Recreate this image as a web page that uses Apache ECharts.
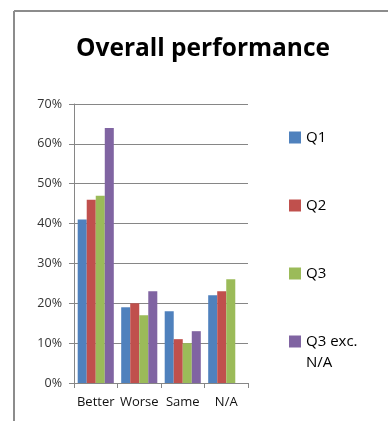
<!DOCTYPE html>
<html>
<head>
<meta charset="utf-8">
<script src="https://cdn.jsdelivr.net/npm/echarts@6/dist/echarts.min.js"></script>
<style>
  html, body { margin: 0; padding: 0; background: #fff; }
  #chart { width: 388px; height: 421px; }
</style>
</head>
<body>
<div id="chart"></div>
<script>
// Survey answers per category, as percentages
const categories = ['Better', 'Worse', 'Same', 'N/A'];
const q1 = [41, 19, 18, 22];
const q2 = [46, 20, 11, 23];
const q3 = [47, 17, 10, 26];
const q3ExcNA = [64, 23, 13, null];
const yTicks = [0, 10, 20, 30, 40, 50, 60, 70];

const seriesNames = ['Q1', 'Q2', 'Q3', 'Q3 exc. N/A'];
const seriesData = [q1, q2, q3, q3ExcNA];
const colors = ['#4F81BD', '#C0504D', '#9BBB59', '#8064A2'];

const font = '"Open Sans", "Liberation Sans", sans-serif';
// top edge of each legend block (the last one carries a blank leading line)
const legendTops = [130, 198, 266, 310];

const chart = echarts.init(document.getElementById('chart'), null, { renderer: 'canvas' });

chart.setOption({
  animation: false,
  backgroundColor: '#ffffff',
  title: {
    text: 'Overall performance',
    left: 203,
    top: 37,
    padding: 0,
    textAlign: 'center',
    textStyle: { fontFamily: font, fontWeight: 'bold', fontSize: 24.5, color: '#000' }
  },
  graphic: [
    { type: 'line', shape: { x1: 14, y1: 11, x2: 388, y2: 11 }, style: { stroke: '#8c8c8c', lineWidth: 2 } },
    { type: 'line', shape: { x1: 14, y1: 11, x2: 14, y2: 421 }, style: { stroke: '#8c8c8c', lineWidth: 2 } }
  ],
  legend: seriesNames.map((name, i) => ({
    data: [name],
    left: 289,
    top: legendTops[i],
    padding: 0,
    orient: 'vertical',
    itemWidth: 12,
    itemHeight: 12,
    itemGap: 0,
    icon: 'rect',
    selectedMode: false,
    // two-line label: a blank first line keeps "Q3 exc." level with the swatch
    formatter: n => (n === 'Q3 exc. N/A' ? ' \nQ3 exc.\nN/A' : n),
    textStyle: i === 3
      ? { fontFamily: font, fontSize: 15, color: '#000', lineHeight: 21 }
      : { fontFamily: font, fontSize: 15, color: '#000' }
  })),
  grid: { left: 74, right: 140, top: 104, bottom: 38, containLabel: false },
  xAxis: {
    type: 'category',
    data: categories,
    axisLine: { lineStyle: { color: '#868686', width: 1 } },
    axisTick: { show: true, length: 5, lineStyle: { color: '#868686' } },
    axisLabel: { fontFamily: font, fontSize: 13, color: '#111', margin: 13, interval: 0 }
  },
  yAxis: {
    type: 'value',
    min: yTicks[0],
    max: yTicks[yTicks.length - 1],
    interval: 10,
    axisLine: { show: true, lineStyle: { color: '#868686', width: 1 } },
    axisTick: { show: true, length: 5, lineStyle: { color: '#868686' } },
    splitLine: { lineStyle: { color: '#868686', width: 1 } },
    axisLabel: { fontFamily: font, fontSize: 12.5, color: '#333', margin: 12, formatter: '{value}%' }
  },
  series: seriesNames.map((name, i) => ({
    name,
    type: 'bar',
    data: seriesData[i],
    itemStyle: { color: colors[i] },
    barGap: '0%',
    barCategoryGap: '17%'
  }))
});
</script>
</body>
</html>
